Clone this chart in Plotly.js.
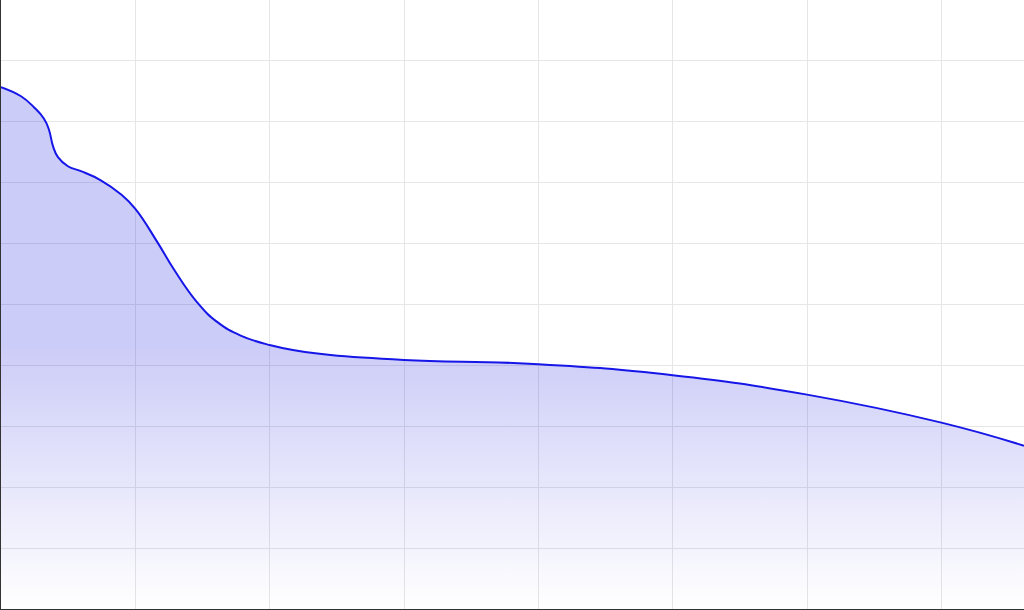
<!DOCTYPE html>
<html>
<head>
<meta charset="utf-8">
<script src="https://cdn.plot.ly/plotly-3.0.1.min.js"></script>
<style>
  html, body { margin: 0; padding: 0; background: #fff; }
  #chart { width: 1024px; height: 610px; }
</style>
</head>
<body>
<div id="chart"></div>
<script>
// values, in grid units
var xValues = [0, 0.149, 0.245, 0.32, 0.357, 0.387, 0.424, 0.498, 0.595, 0.743, 0.892, 1.0,
               1.165, 1.289, 1.462, 1.611, 1.784, 2.007, 2.206, 2.454, 3, 4, 5, 6, 7, 7.615];
var yValues = [8.57, 8.42, 8.24, 8.05, 7.87, 7.60, 7.42, 7.27, 7.19, 7.04, 6.81, 6.57,
               6.02, 5.57, 5.03, 4.71, 4.49, 4.33, 4.24, 4.17, 4.09, 4.02, 3.84, 3.52, 3.06, 2.68];

var trace = {
    x: xValues,
    y: yValues,
    type: 'scatter',
    mode: 'lines',
    line: { color: 'rgb(22,22,232)', width: 2, shape: 'spline', smoothing: 1.3 },
    fill: 'tozeroy',
    fillcolor: 'rgba(0,0,220,0.2)',
    fillgradient: {
        type: 'vertical',
        start: 0,
        stop: 4.3,
        colorscale: [[0, 'rgba(0,0,220,0)'], [1, 'rgba(0,0,220,0.2)']]
    },
    hoverinfo: 'skip'
};

var layout = {
    width: 1024,
    height: 610,
    margin: { l: 1, r: 0, t: 0, b: 1 },
    paper_bgcolor: '#fff',
    plot_bgcolor: '#fff',
    showlegend: false,
    xaxis: {
        range: [0, 7.615],
        dtick: 1,
        showticklabels: false,
        ticks: '',
        showgrid: true,
        gridcolor: '#e6e6e6',
        gridwidth: 1,
        zeroline: false,
        showline: true,
        linecolor: '#333',
        linewidth: 2
    },
    yaxis: {
        range: [0, 10],
        dtick: 1,
        showticklabels: false,
        ticks: '',
        showgrid: true,
        gridcolor: '#e6e6e6',
        gridwidth: 1,
        zeroline: false,
        showline: true,
        linecolor: '#333',
        linewidth: 2
    }
};

Plotly.newPlot('chart', [trace], layout, { displayModeBar: false, staticPlot: true });
</script>
</body>
</html>
